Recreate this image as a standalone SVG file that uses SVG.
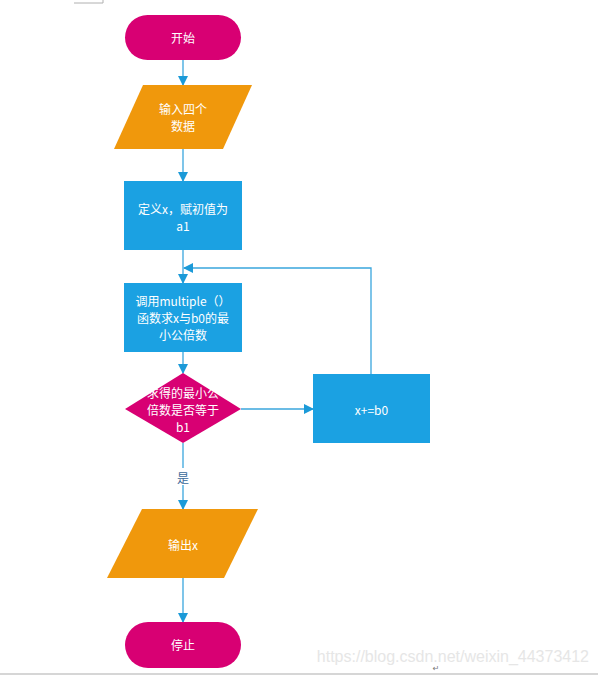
<svg xmlns="http://www.w3.org/2000/svg" width="598" height="675" viewBox="0 0 598 675">
<defs>
<style>
.t{font-family:"Noto Sans CJK SC","Liberation Sans",sans-serif;font-size:12px;fill:#ffffff;text-anchor:middle;dominant-baseline:central}
.c{stroke:#3aa6dd;stroke-width:1.3;fill:none}
.mag{fill:#d80073}
.org{fill:#f0980c}
.blu{fill:#1ba1e2}
</style>
<marker id="ah" markerWidth="10" markerHeight="10" refX="9" refY="5" orient="auto" markerUnits="userSpaceOnUse">
<path d="M0,0 L10,5 L0,10 Z" fill="#1b9ad8"/>
</marker>
</defs>
<rect width="598" height="675" fill="#ffffff"/>
<path d="M74,3 H103 V0" stroke="#b0b0b0" stroke-width="1" fill="none"/>
<line x1="0" y1="674" x2="598" y2="674" stroke="#c8c8c8" stroke-width="1.5"/>

<g id="connectors">
<line class="c" x1="183" y1="60" x2="183" y2="85" marker-end="url(#ah)"/>
<line class="c" x1="183" y1="149" x2="183" y2="181" marker-end="url(#ah)"/>
<line class="c" x1="183" y1="250" x2="183" y2="283" marker-end="url(#ah)"/>
<line class="c" x1="183" y1="352" x2="183" y2="373" marker-end="url(#ah)"/>
<line class="c" x1="241" y1="409" x2="313" y2="409" marker-end="url(#ah)"/>
<polyline class="c" points="371,374 371,268 184,268" marker-end="url(#ah)"/>
<line class="c" x1="183" y1="443" x2="183" y2="468"/>
<line class="c" x1="183" y1="485" x2="183" y2="509" marker-end="url(#ah)"/>
<text x="183" y="477" style="font-family:'Noto Sans CJK SC','Liberation Sans',sans-serif;font-size:12px;fill:#3a6a9a;text-anchor:middle;dominant-baseline:central">是</text>
<line class="c" x1="183" y1="578" x2="183" y2="622" marker-end="url(#ah)"/>
</g>

<g id="start">
<rect class="mag" x="125" y="15" width="116" height="45" rx="22.5"/>
<text class="t" x="183" y="37.5">开始</text>
</g>
<g id="input">
<polygon class="org" points="143,85 252,85 223,149 114,149"/>
<text class="t" x="183" y="108">输入四个</text>
<text class="t" x="183" y="125">数据</text>
</g>
<g id="define">
<rect class="blu" x="124" y="181" width="118" height="69"/>
<text class="t" x="183" y="208">定义x，赋初值为</text>
<text class="t" x="183" y="225">a1</text>
</g>
<g id="multiple">
<rect class="blu" x="124" y="283" width="118" height="69"/>
<text class="t" x="183" y="300">调用multiple（）</text>
<text class="t" x="183" y="317">函数求x与b0的最</text>
<text class="t" x="183" y="334">小公倍数</text>
</g>
<g id="decision">
<polygon class="mag" points="183,373 241,409 183,443 125,409"/>
<text class="t" x="183" y="392">求得的最小公</text>
<text class="t" x="183" y="409">倍数是否等于</text>
<text class="t" x="183" y="426">b1</text>
</g>
<g id="increment">
<rect class="blu" x="313" y="374" width="117" height="69"/>
<text class="t" x="371.5" y="409">x+=b0</text>
</g>
<g id="output">
<polygon class="org" points="142,509 258,509 224,578 107,578"/>
<text class="t" x="183" y="544">输出x</text>
</g>
<g id="stop">
<rect class="mag" x="125" y="622" width="116" height="46" rx="23"/>
<text class="t" x="183" y="644">停止</text>
</g>

<text x="589" y="656" style="font-family:'Liberation Sans',sans-serif;font-size:16px;fill:#e6e6e6;text-anchor:end;dominant-baseline:central">https://blog.csdn.net/weixin_44373412</text>
<text x="436" y="668" style="font-family:'DejaVu Sans',sans-serif;font-size:8px;fill:#777777;text-anchor:middle;dominant-baseline:central">↵</text>
</svg>
